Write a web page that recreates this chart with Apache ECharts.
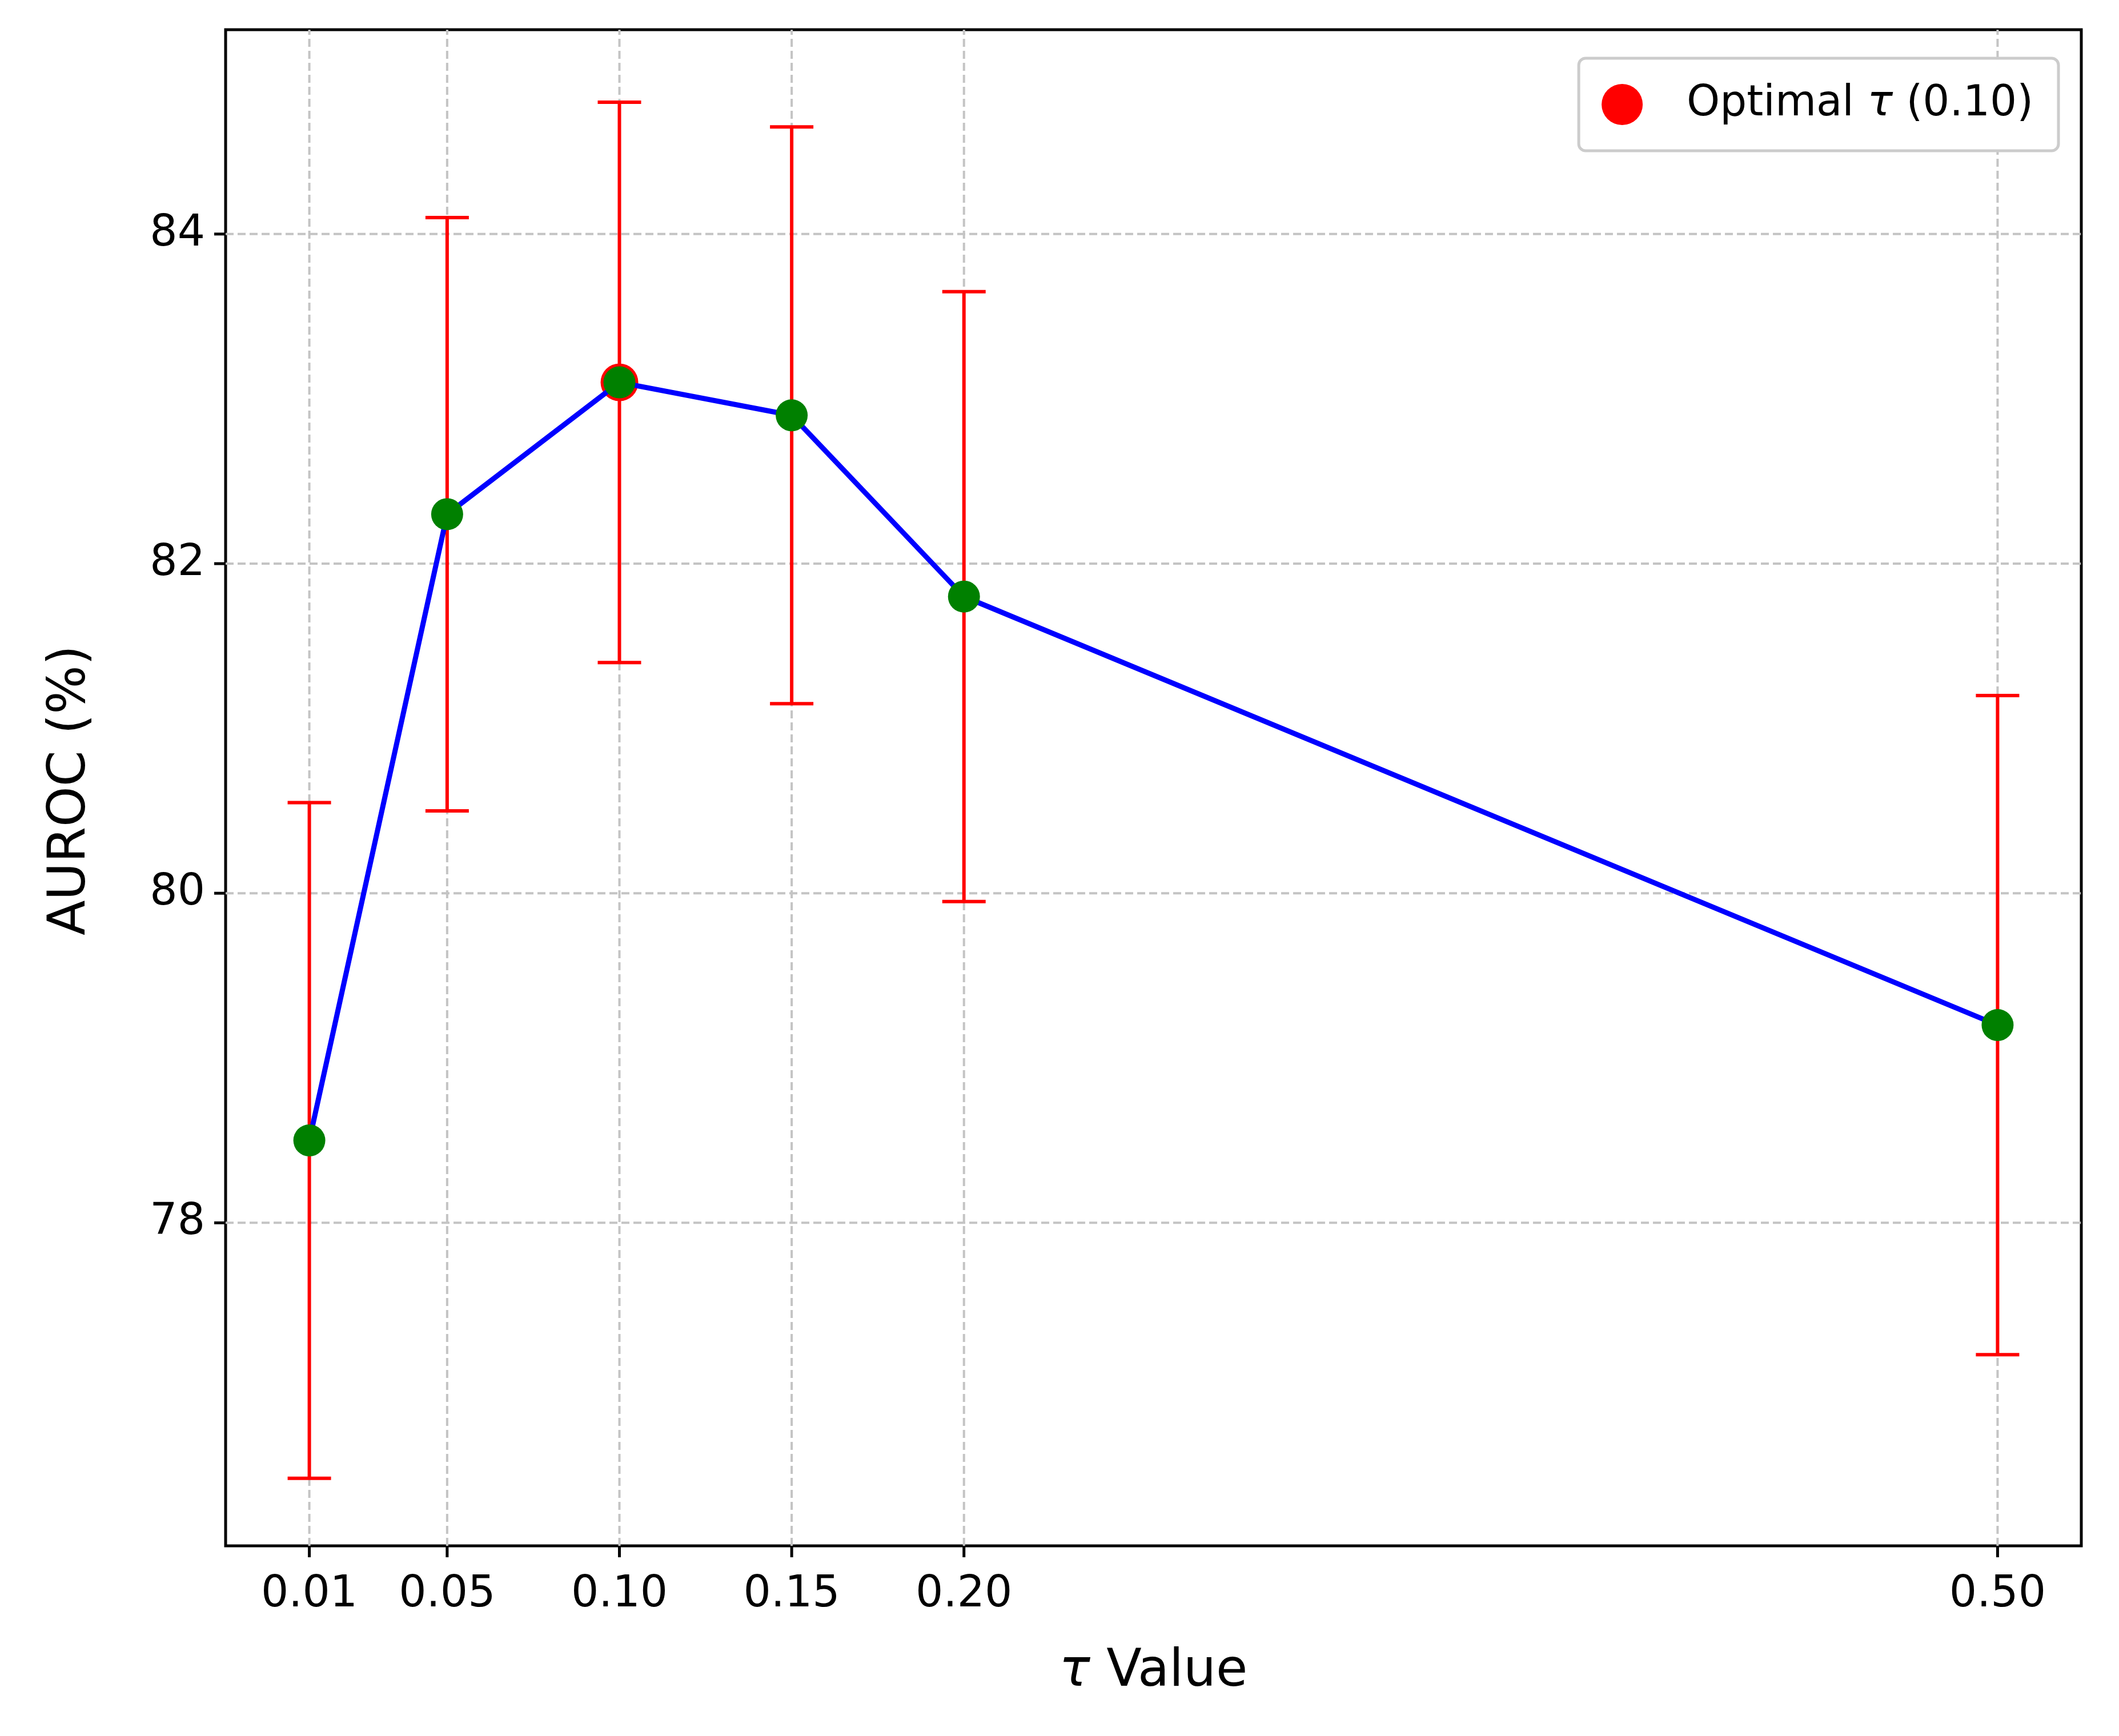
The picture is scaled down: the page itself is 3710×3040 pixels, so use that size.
<!DOCTYPE html>
<html><head><meta charset="utf-8">
<script src="https://cdn.jsdelivr.net/npm/echarts@6/dist/echarts.min.js"></script>
<style>html,body{margin:0;padding:0;background:#fff}#c{width:3710px;height:3040px}</style>
</head><body><div id="c"></div>
<script>
const tauValues = [0.01, 0.05, 0.10, 0.15, 0.20, 0.50];
const tauLabels = ['0.01','0.05','0.10','0.15','0.20','0.50'];
const auroc = [78.5, 82.3, 83.1, 82.9, 81.8, 79.2];
const errs = [2.05, 1.8, 1.7, 1.75, 1.85, 2.0];
const yTicks = [78, 80, 82, 84];
const optimal = [[0.10, 83.1]];
const FONT = 'DejaVu Sans';

const chart = echarts.init(document.getElementById('c'));
const pts = tauValues.map((t,i)=>[t, auroc[i]]);
const errData = tauValues.map((t,i)=>[t, auroc[i]-errs[i], auroc[i]+errs[i]]);
const gridStyle = {stroke:'#c4c4c4', lineWidth:4, lineDash:[14,7]};
chart.setOption({
  animation:false,
  grid:{left:395, right:3710-3644, top:52, bottom:3040-2707, show:true, borderColor:'#000', borderWidth:5, backgroundColor:'transparent'},
  xAxis:{type:'value', min:-0.0143, max:0.5243, axisLine:{show:false}, axisTick:{show:false}, axisLabel:{show:false}, splitLine:{show:false}},
  yAxis:{type:'value', min:76.04, max:85.24, axisLine:{show:false}, axisTick:{show:false}, axisLabel:{show:false}, splitLine:{show:false}},
  legend:{data:['Optimal τ (0.10)'], right:3710-3604, top:102, orient:'vertical', itemWidth:72, itemHeight:72, itemGap:20,
    padding:[44,44,44,40], borderColor:'#cccccc', borderWidth:5, borderRadius:12, backgroundColor:'#fff',
    formatter:()=>'{a|Optimal }{b|τ}{a| (0.10)}',
    textStyle:{rich:{a:{fontFamily:FONT,fontSize:74,color:'#000'},b:{fontFamily:FONT,fontSize:74,fontStyle:'italic',color:'#000'}}, padding:[0,0,0,72]}},
  series:[
    {type:'custom', silent:true, data:tauValues.map((t,i)=>[t,i]), clip:false, z:1,
     renderItem:(p,api)=>{
       const x = api.coord([api.value(0), 0])[0];
       const yb = api.coord([0,76.04])[1], yt = api.coord([0,85.24])[1];
       return {type:'group', children:[
         {type:'line', shape:{x1:x,y1:yb,x2:x,y2:yt}, style:gridStyle},
         {type:'line', shape:{x1:x,y1:yb,x2:x,y2:yb+20}, style:{stroke:'#000',lineWidth:5}},
         {type:'text', x:x, y:yb+48, style:{text:tauLabels[api.value(1)], fontFamily:FONT, fontSize:76, fill:'#000', align:'center', verticalAlign:'top'}}
       ]};
     }},
    {type:'custom', silent:true, data:yTicks.map(v=>[v]), clip:false, z:1,
     renderItem:(p,api)=>{
       const y = api.coord([0, api.value(0)])[1];
       const xl = api.coord([-0.0143,0])[0], xr = api.coord([0.5243,0])[0];
       return {type:'group', children:[
         {type:'line', shape:{x1:xl,y1:y,x2:xr,y2:y}, style:gridStyle},
         {type:'line', shape:{x1:xl-20,y1:y,x2:xl,y2:y}, style:{stroke:'#000',lineWidth:5}},
         {type:'text', x:xl-36, y:y, style:{text:String(api.value(0)), fontFamily:FONT, fontSize:76, fill:'#000', align:'right', verticalAlign:'middle'}}
       ]};
     }},
    {type:'custom', silent:true, data:errData, z:3,
     renderItem:(p,api)=>{
       const lo = api.coord([api.value(0), api.value(1)]);
       const hi = api.coord([api.value(0), api.value(2)]);
       const st = {stroke:'#ff0000', lineWidth:6};
       return {type:'group', children:[
         {type:'line', shape:{x1:lo[0],y1:lo[1],x2:hi[0],y2:hi[1]}, style:st},
         {type:'line', shape:{x1:lo[0]-38,y1:lo[1],x2:lo[0]+38,y2:lo[1]}, style:st},
         {type:'line', shape:{x1:hi[0]-38,y1:hi[1],x2:hi[0]+38,y2:hi[1]}, style:st}
       ]};
     }},
    {name:'Optimal τ (0.10)', type:'scatter', data:optimal, symbolSize:66, itemStyle:{color:'#ff0000', opacity:1}, z:4},
    {type:'line', data:pts, symbol:'circle', symbolSize:56, lineStyle:{color:'#0000ff', width:9}, itemStyle:{color:'#008000', borderWidth:0}, z:5}
  ],
  graphic:[
    {type:'text', x:(395+3644)/2, y:2929, style:{text:'{i|τ} Value', rich:{i:{fontStyle:'italic',fontFamily:FONT,fontSize:90}}, fontFamily:FONT, fontSize:90, fill:'#000', align:'center', verticalAlign:'middle'}},
    {type:'text', x:125, y:1384, rotation:Math.PI/2, style:{text:'AUROC (%)', fontFamily:FONT, fontSize:90, fill:'#000', align:'center', verticalAlign:'middle'}}
  ]
});
</script></body></html>
